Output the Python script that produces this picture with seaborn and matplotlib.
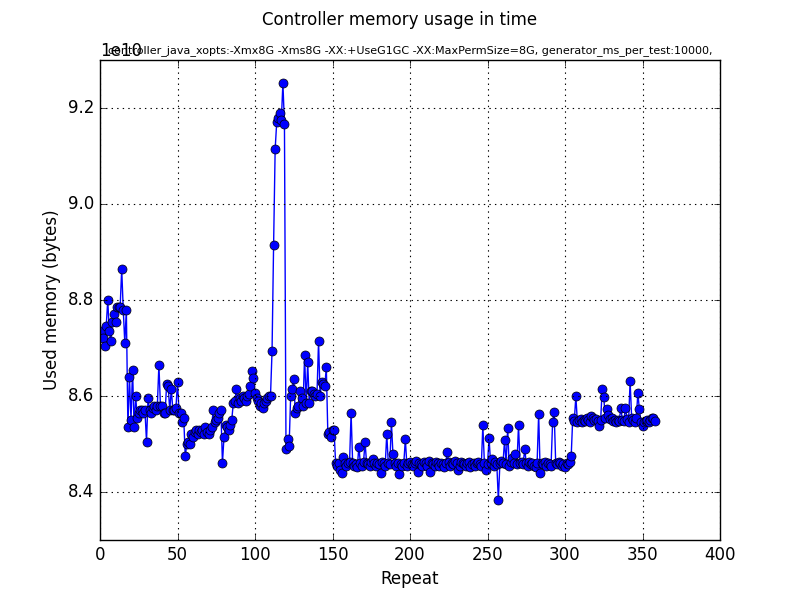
import matplotlib
matplotlib.use("Agg")
import matplotlib.pyplot as plt
import seaborn as sns
import numpy as np
import pandas as pd

plt.style.use("classic")

title = "Controller memory usage in time"
subtitle = "controller_java_xopts:-Xmx8G -Xms8G -XX:+UseG1GC -XX:MaxPermSize=8G, generator_ms_per_test:10000,"

# used memory, in units of 1e10 bytes, per repeat
seg_a = [8.735, 8.72, 8.705, 8.745, 8.80, 8.735, 8.715, 8.755, 8.77, 8.755,
         8.785, 8.785, 8.785, 8.865, 8.78, 8.71, 8.78]
seg_b = [8.535, 8.64, 8.55, 8.655, 8.535, 8.60, 8.555, 8.565, 8.57, 8.57,
         8.565, 8.57, 8.505, 8.595, 8.57, 8.565, 8.575, 8.58, 8.57, 8.58,
         8.665, 8.58, 8.58, 8.565, 8.565, 8.625, 8.62, 8.57, 8.615, 8.57,
         8.57, 8.575, 8.63, 8.565, 8.565, 8.545, 8.555, 8.475, 8.50, 8.505,
         8.50, 8.52, 8.515]
seg_c = [8.525, 8.53, 8.52, 8.53, 8.525, 8.53, 8.52, 8.535, 8.525, 8.52,
         8.53, 8.535, 8.57, 8.545, 8.55, 8.555, 8.565, 8.57, 8.46, 8.515,
         8.54, 8.535, 8.53, 8.54, 8.55, 8.585, 8.59, 8.615, 8.585, 8.595,
         8.59, 8.60, 8.595, 8.59, 8.60, 8.605, 8.62, 8.652, 8.638, 8.606,
         8.595, 8.59, 8.58, 8.585, 8.575, 8.585, 8.59, 8.595, 8.60, 8.60,
         8.694, 8.915, 9.114, 9.17, 9.18, 9.19, 9.175, 9.252, 9.167, 8.49]
seg_d = [8.51, 8.495, 8.60, 8.615, 8.635, 8.565, 8.575, 8.58, 8.61, 8.595,
         8.58, 8.685, 8.585, 8.67, 8.585, 8.61, 8.61, 8.605, 8.60, 8.605,
         8.715, 8.60, 8.63, 8.625, 8.62, 8.66, 8.52, 8.525, 8.515, 8.53,
         8.53, 8.46]
seg_e = [8.455, 8.46, 8.445, 8.44, 8.472, 8.46, 8.455, 8.46, 8.462, 8.565,
         8.46, 8.455, 8.458, 8.452, 8.494, 8.46, 8.455, 8.462, 8.504, 8.46,
         8.458, 8.455, 8.462, 8.468, 8.46, 8.455, 8.46, 8.458, 8.44, 8.462,
         8.46, 8.455, 8.521, 8.46, 8.458, 8.546, 8.479, 8.46, 8.455, 8.46,
         8.438, 8.458, 8.455, 8.46, 8.51, 8.455, 8.46, 8.462, 8.458, 8.455,
         8.46, 8.465, 8.442, 8.46, 8.458, 8.455, 8.462, 8.46, 8.455, 8.465,
         8.442, 8.46, 8.458, 8.455, 8.462, 8.46, 8.455, 8.46, 8.458, 8.452,
         8.46, 8.483, 8.462, 8.455, 8.46, 8.458, 8.465, 8.46, 8.445, 8.455,
         8.462, 8.46, 8.458, 8.455, 8.46, 8.462, 8.452, 8.458, 8.46, 8.455,
         8.46, 8.462, 8.458, 8.455, 8.539, 8.46, 8.445, 8.458, 8.512, 8.46,
         8.468, 8.455, 8.462, 8.458, 8.383, 8.46, 8.465, 8.46, 8.508, 8.458,
         8.534, 8.455, 8.462, 8.47, 8.46, 8.48, 8.458, 8.539, 8.46, 8.462,
         8.458, 8.49, 8.46, 8.455, 8.462, 8.458, 8.46, 8.455, 8.452, 8.46,
         8.563, 8.44, 8.46, 8.458, 8.462, 8.455, 8.46, 8.458, 8.455, 8.546,
         8.567, 8.46, 8.458, 8.462, 8.46, 8.455, 8.458, 8.452, 8.46, 8.458,
         8.462, 8.475]
seg_f = [8.555, 8.548, 8.60, 8.545, 8.55, 8.552, 8.545, 8.55, 8.548, 8.555,
         8.55, 8.545, 8.558, 8.555, 8.55, 8.552, 8.548, 8.537, 8.55, 8.614,
         8.597, 8.555, 8.573, 8.56, 8.552, 8.555, 8.548, 8.55, 8.545, 8.55,
         8.548, 8.576, 8.55, 8.548, 8.576, 8.552, 8.545, 8.631, 8.555, 8.55,
         8.545, 8.555, 8.606, 8.572, 8.545, 8.537, 8.545, 8.548, 8.55, 8.545,
         8.55, 8.555, 8.555, 8.548]

values = np.array(seg_a + seg_b + seg_c + seg_d + seg_e + seg_f) * 1e10
repeats = np.arange(1, len(values) + 1)
df = pd.DataFrame({"Repeat": repeats, "Used": values})

fig = plt.figure(figsize=(8, 6), dpi=100)
ax = fig.add_axes([0.125, 0.1, 0.775, 0.8])
sns.lineplot(data=df, x="Repeat", y="Used", ax=ax, color="b", marker="o",
             markersize=6.5, markeredgecolor="k", markeredgewidth=0.5,
             linewidth=1.0, markerfacecolor="b")
ax.set_xlim(0, 400)
ax.set_ylim(8.3e10, 9.3e10)
ax.set_xticks(np.arange(0, 401, 50))
ax.set_yticks(np.arange(8.4e10, 9.21e10, 0.2e10))
ax.grid(True, color="k", linestyle=":", linewidth=0.8)
ax.set_xlabel("Repeat", fontsize=12)
ax.set_ylabel("Used memory (bytes)", fontsize=12)
ax.set_title(subtitle, fontsize=8)
fig.suptitle(title, fontsize=12, y=0.982)
fig.savefig("out.png", dpi=100)
